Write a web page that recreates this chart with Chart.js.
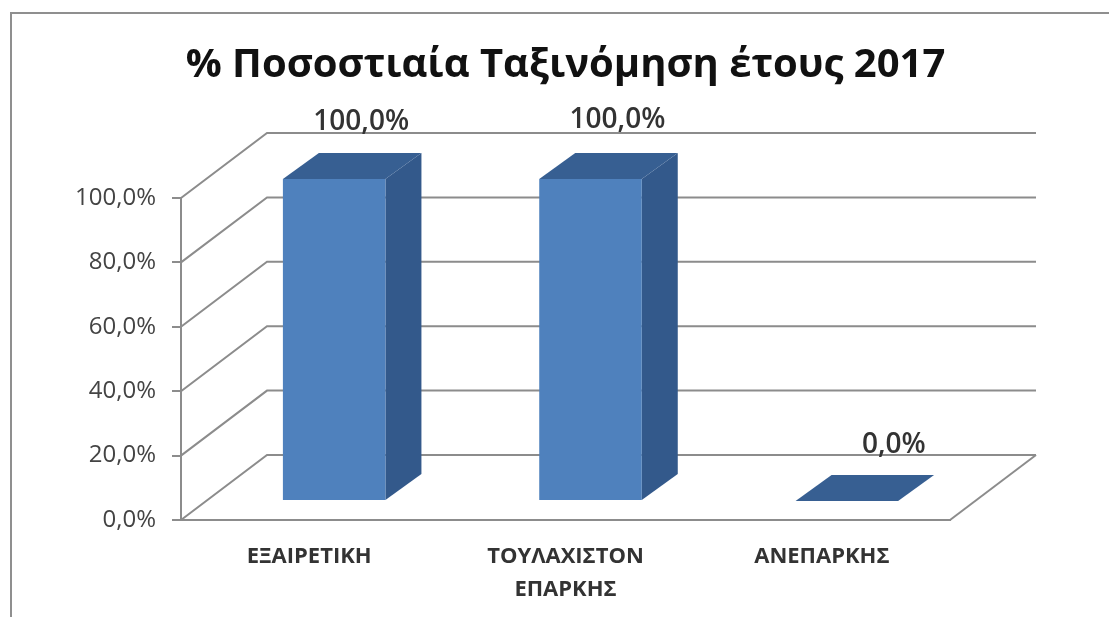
<!DOCTYPE html>
<html>
<head>
<meta charset="utf-8">
<script src="https://cdn.jsdelivr.net/npm/chart.js@4"></script>
<style>
  html, body { margin: 0; padding: 0; background: #fff; }
  #wrap { position: relative; width: 1109px; height: 617px; overflow: hidden; }
  #frame { position: absolute; left: 10px; top: 12px; width: 1200px; height: 700px; border: 2px solid #8f8f8f; }
  canvas { position: absolute; left: 0; top: 0; filter: blur(0.6px); }
</style>
</head>
<body>
<div id="wrap">
  <div id="frame"></div>
  <canvas id="chart" width="1109" height="617"></canvas>
</div>
<script>
const categories = ['ΕΞΑΙΡΕΤΙΚΗ', ['ΤΟΥΛΑΧΙΣΤΟΝ', 'ΕΠΑΡΚΗΣ'], 'ΑΝΕΠΑΡΚΗΣ'];
const percentages = [100, 100, 0];
const chartTitle = '% Ποσοστιαία Ταξινόμηση έτους 2017';

// how far the back wall and the bars sit behind the front plane
const wall = { dx: 86, dy: -65 };
const barShift = { dx: 25, dy: -19 };
const barDepth = { dx: 36, dy: -26 };
// the value labels were moved by hand in the original
const labelDx = [52, 52, 72];
const labelDy = [-76, -78, -75];

const lineColor = '#8c8c8c';
const fontFamily = '"Open Sans", "Noto Sans", sans-serif';
const pct = v => v.toFixed(1).replace('.', ',') + '%';

function poly(ctx, pts, color) {
    ctx.fillStyle = color;
    ctx.beginPath();
    pts.forEach((p, i) => i ? ctx.lineTo(p[0], p[1]) : ctx.moveTo(p[0], p[1]));
    ctx.closePath();
    ctx.fill();
}

// fake 3D: walls behind the bars, side and top faces next to them
const fake3d = {
    id: 'fake3d',
    beforeDatasetsDraw(chart) {
        const { ctx, chartArea: a, scales: { y } } = chart;
        ctx.save();
        ctx.strokeStyle = lineColor;
        ctx.lineWidth = 2;
        y.ticks.forEach(t => {
            const py = y.getPixelForValue(t.value);
            ctx.beginPath();
            ctx.moveTo(a.left, py);
            ctx.lineTo(a.left + wall.dx, py + wall.dy);
            ctx.lineTo(a.right + wall.dx, py + wall.dy);
            ctx.stroke();
        });
        // right edge of the floor
        ctx.beginPath();
        ctx.moveTo(a.right, a.bottom);
        ctx.lineTo(a.right + wall.dx, a.bottom + wall.dy);
        ctx.stroke();
        ctx.restore();

        const meta = chart.getDatasetMeta(0);
        ctx.save();
        ctx.translate(barShift.dx, barShift.dy);
        meta.data.forEach(bar => {
            const l = bar.x - bar.width / 2, r = bar.x + bar.width / 2;
            const t = bar.y, b = bar.base;
            if (b - t > 0) {
                poly(ctx, [[r, t], [r + barDepth.dx, t + barDepth.dy], [r + barDepth.dx, b + barDepth.dy], [r, b]], '#33598b');
            }
            poly(ctx, [[l, t], [l + barDepth.dx, t + barDepth.dy], [r + barDepth.dx, t + barDepth.dy], [r, t]], '#375f92');
        });
        // left open for the library's own bars, closed in afterDatasetsDraw
    },
    afterDatasetsDraw(chart) {
        const { ctx } = chart;
        ctx.restore();
        ctx.save();
        ctx.font = '600 28px ' + fontFamily;
        ctx.fillStyle = '#333';
        ctx.textAlign = 'center';
        ctx.textBaseline = 'middle';
        chart.getDatasetMeta(0).data.forEach((bar, i) => {
            ctx.fillText(pct(percentages[i]), bar.x + labelDx[i], bar.y + labelDy[i]);
        });
        ctx.restore();
    }
};

new Chart(document.getElementById('chart'), {
    type: 'bar',
    data: {
        labels: categories,
        datasets: [{
            data: percentages,
            backgroundColor: '#4f81bd',
            borderWidth: 0,
            barPercentage: 0.4,
            categoryPercentage: 1
        }]
    },
    plugins: [fake3d],
    options: {
        responsive: false,
        animation: false,
        layout: { padding: { right: 159 } },
        plugins: {
            legend: { display: false },
            tooltip: { enabled: false },
            title: {
                display: true,
                text: chartTitle,
                fullSize: false,
                color: '#111',
                font: { family: fontFamily, size: 40, weight: '700', lineHeight: 1.2 },
                padding: { top: 42, bottom: 108 }
            }
        },
        scales: {
            x: {
                afterFit(scale) { scale.height = 97; },
                grid: { display: false },
                border: { display: true, color: lineColor, width: 2 },
                ticks: {
                    color: '#333',
                    padding: 12,
                    maxRotation: 0,
                    font: { family: fontFamily, size: 22, weight: '700', lineHeight: 1.5 }
                }
            },
            y: {
                min: 0,
                max: 100,
                afterFit(scale) { scale.width = 181; },
                grid: { drawOnChartArea: false, drawTicks: true, tickLength: 9, color: lineColor, lineWidth: 2 },
                border: { display: true, color: lineColor, width: 2 },
                ticks: {
                    stepSize: 20,
                    color: '#444',
                    padding: 16,
                    font: { family: fontFamily, size: 24 },
                    callback: v => pct(v)
                }
            }
        }
    }
});
</script>
</body>
</html>
